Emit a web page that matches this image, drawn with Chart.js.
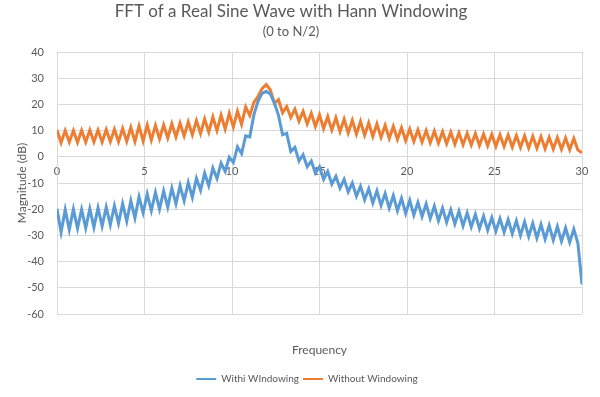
<!DOCTYPE html>
<html>
<head>
<meta charset="utf-8">
<script src="https://cdn.jsdelivr.net/npm/chart.js@4.4.0/dist/chart.umd.min.js"></script>
<style>
  html, body { margin: 0; padding: 0; background: #fff; }
</style>
</head>
<body>
<canvas id="grafica" width="600" height="397"></canvas>
<script>
// ==========================================
// DATOS — FFT seno real (0 a N/2)
// ==========================================
const FREQ_STEP = 30 / 128;   // separacion entre muestras en el eje x

const conVentana = [
  -19.8, -28.8, -20.2, -27.8, -20.0, -27.3, -20.1, -27.2, -19.8, -26.9,
  -19.5, -26.5, -19.2, -26.0, -18.7, -25.4, -17.9, -24.6, -16.8, -23.3,
  -15.3, -21.4, -14.2, -20.6, -13.6, -20.0, -13.0, -19.2, -12.0, -18.0,
  -11.0, -16.8, -9.8, -15.5, -8.2, -12.8, -6.2, -11.0, -4.3, -8.3,
  -2.4, -5.6, -0.2, -2.2, 3.8, 1.2, 8.0, 7.6, 16.0, 21.2,
  24.2, 25.0, 24.0, 20.6, 15.8, 8.4, 9.0, 2.0, 3.6, -1.6,
  0.8, -3.8, -1.6, -6.2, -3.8, -8.6, -5.6, -10.4, -7.4, -12.0,
  -8.6, -13.4, -10.0, -15.0, -11.2, -16.4, -12.2, -17.6, -13.0, -18.6,
  -14.0, -19.6, -14.8, -20.6, -15.8, -21.6, -16.6, -22.2, -17.4, -22.8,
  -18.0, -23.6, -18.8, -24.4, -19.6, -25.0, -20.2, -25.6, -20.8, -26.4,
  -21.4, -26.8, -22.0, -27.4, -22.6, -28.0, -23.2, -28.4, -23.6, -28.8,
  -24.0, -29.4, -24.4, -30.0, -24.8, -30.4, -25.4, -31.0, -25.8, -31.4,
  -26.2, -31.8, -26.6, -32.2, -27.2, -32.6, -27.6, -33.0, -48.7
];

const sinVentana = [
  10.2, 5.4, 10.0, 5.6, 10.0, 5.5, 10.1, 5.6, 10.2, 5.7,
  10.2, 5.6, 10.4, 5.8, 10.5, 5.7, 10.8, 5.9, 11.2, 5.8,
  11.8, 6.0, 12.2, 6.4, 12.0, 6.8, 12.2, 7.2, 12.6, 7.6,
  12.9, 8.0, 13.3, 8.4, 13.8, 8.9, 14.4, 9.4, 15.2, 10.0,
  15.9, 10.6, 16.6, 11.4, 17.4, 12.4, 19.0, 15.8, 20.8, 23.0,
  26.0, 27.6, 25.6, 20.4, 21.8, 16.8, 19.2, 15.0, 18.2, 13.6,
  17.4, 12.6, 16.6, 11.6, 16.0, 10.8, 15.4, 10.2, 14.9, 9.6,
  14.4, 9.1, 13.9, 8.6, 13.5, 8.2, 13.0, 7.8, 12.6, 7.4,
  12.0, 7.0, 11.6, 6.6, 11.1, 6.2, 10.6, 5.9, 10.3, 5.6,
  10.0, 5.4, 9.8, 5.2, 9.6, 5.0, 9.4, 4.8, 9.2, 4.6,
  9.0, 4.5, 8.9, 4.3, 8.7, 4.2, 8.6, 4.0, 8.4, 3.9,
  8.3, 3.7, 8.1, 3.6, 8.0, 3.4, 7.8, 3.3, 7.7, 3.1,
  7.5, 3.0, 7.4, 2.9, 7.2, 2.7, 7.0, 2.6, 1.5
];

const X_TICKS = [0, 5, 10, 15, 20, 25, 30];
const Y_TICKS = [-60, -50, -40, -30, -20, -10, 0, 10, 20, 30, 40];

// ==========================================
// ESTILO
// ==========================================
const FUENTE = 'Lato, Carlito, Calibri, sans-serif';
const GRIS_TEXTO = '#595959';
const GRIS_GRID = '#d9d9d9';

const aPuntos = serie => serie.map((y, i) => ({ x: i * FREQ_STEP, y: y }));

// leyenda con linea mas fina que la serie
const etiquetasBase = Chart.defaults.plugins.legend.labels.generateLabels;

// la leyenda de Excel va centrada un poco a la derecha
const moverLeyenda = {
  id: 'moverLeyenda',
  afterLayout(chart) {
    const lg = chart.legend;
    if (lg) { lg.left += 16; lg.right += 16; }
  }
};

const ctx = document.getElementById('grafica').getContext('2d');

new Chart(ctx, {
  type: 'scatter',
  data: {
    datasets: [
      {
        label: 'Withi WIndowing',
        data: aPuntos(conVentana),
        borderColor: '#5b9bd5',
        backgroundColor: '#5b9bd5',
        showLine: true,
        borderWidth: 3,
        pointRadius: 0,
        tension: 0
      },
      {
        label: 'Without Windowing',
        data: aPuntos(sinVentana),
        borderColor: '#ed7d31',
        backgroundColor: '#ed7d31',
        showLine: true,
        borderWidth: 3,
        pointRadius: 0,
        tension: 0
      }
    ]
  },
  options: {
    responsive: false,
    animation: false,
    layout: { padding: { left: 0, right: 18, top: 0, bottom: 3 } },
    scales: {
      x: {
        type: 'linear',
        position: { y: 0 },
        min: 0,
        max: 30,
        afterBuildTicks: s => { s.ticks = X_TICKS.map(v => ({ value: v })); },
        ticks: { color: GRIS_TEXTO, font: { family: FUENTE, size: 11 }, padding: 8, maxRotation: 0 },
        grid: { color: GRIS_GRID, drawTicks: false },
        border: { color: GRIS_GRID }
      },
      x2: {
        type: 'linear',
        position: 'bottom',
        min: 0,
        max: 30,
        ticks: { display: false },
        grid: { display: false, drawTicks: false },
        border: { display: false },
        afterFit: s => { s.height = 56; },
        title: {
          display: true,
          text: 'Frequency',
          color: GRIS_TEXTO,
          font: { family: FUENTE, size: 12 },
          padding: { top: 28, bottom: 13 }
        }
      },
      y: {
        min: -60,
        max: 40,
        afterBuildTicks: s => { s.ticks = Y_TICKS.map(v => ({ value: v })); },
        afterFit: s => { s.width = 57; },
        ticks: { color: GRIS_TEXTO, font: { family: FUENTE, size: 11 }, padding: 13 },
        grid: { color: GRIS_GRID, drawTicks: false },
        border: { color: GRIS_GRID },
        title: {
          display: true,
          text: 'Magnitude (dB)',
          color: GRIS_TEXTO,
          font: { family: FUENTE, size: 12 },
          padding: { top: 15, bottom: 0 }
        }
      }
    },
    plugins: {
      title: {
        display: true,
        text: 'FFT of a Real Sine Wave with Hann Windowing',
        color: GRIS_TEXTO,
        font: { family: FUENTE, size: 17, weight: 'normal' },
        padding: { top: 1, bottom: 1 }
      },
      subtitle: {
        display: true,
        text: '(0 to N/2)',
        color: GRIS_TEXTO,
        font: { family: FUENTE, size: 13 },
        padding: { top: 2, bottom: 12 }
      },
      legend: {
        position: 'bottom',
        labels: {
          color: GRIS_TEXTO,
          font: { family: FUENTE, size: 10 },
          usePointStyle: true,
          pointStyle: 'line',
          pointStyleWidth: 20,
          padding: 4,
          generateLabels: chart => etiquetasBase(chart).map(l => ({ ...l, lineWidth: 2 }))
        }
      },
      tooltip: { enabled: false }
    }
  },
  plugins: [moverLeyenda]
});
</script>
</body>
</html>
